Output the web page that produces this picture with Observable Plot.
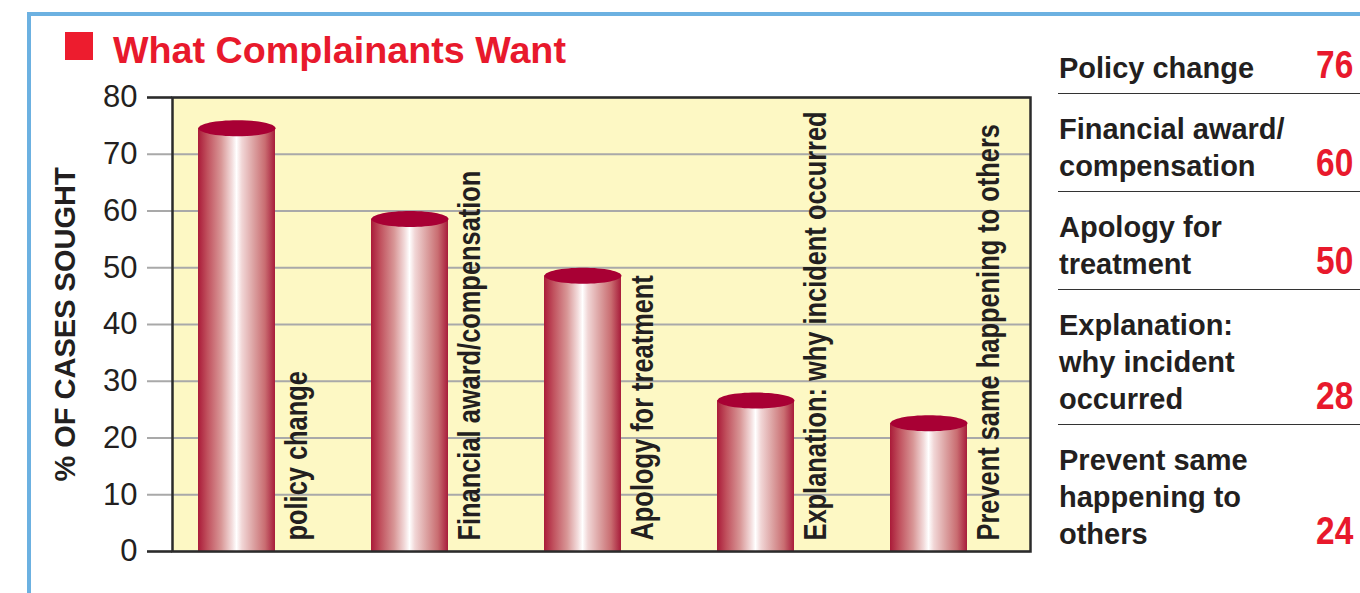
<!DOCTYPE html>
<html>
<head>
<meta charset="utf-8">
<script src="https://cdn.jsdelivr.net/npm/d3@7"></script>
<script src="https://cdn.jsdelivr.net/npm/@observablehq/plot@0.6"></script>
<style>
html, body { margin: 0; padding: 0; background: #fff; }
#wrap { position: relative; width: 1360px; height: 593px; overflow: hidden; font-family: "Liberation Sans", Arial, sans-serif; color: #231f20; }
#chart svg { position: absolute; left: 0; top: 0; }
.bline { position: absolute; background: #6cb1e1; }
#square { position: absolute; left: 65px; top: 32px; width: 28px; height: 28px; background: #ed1c2e; }
#title { position: absolute; left: 113px; top: 31.5px; font-size: 37.7px; line-height: 37px; font-weight: bold; color: #e8192c; white-space: nowrap; }
#table { position: absolute; left: 1058px; top: 0; width: 302px; }
.row { position: relative; padding: 17px 0 6px 1px; border-bottom: 1.5px solid #333; font-size: 29px; line-height: 37px; font-weight: bold; }
.row:first-child { padding-top: 49.5px; }
.row:last-child { border-bottom: none; }
.num { position: absolute; right: 7px; bottom: 8.7px; display: inline-block; font-size: 38px; line-height: 38px; color: #e8192c; transform: scaleX(0.88); transform-origin: right bottom; }
</style>
</head>
<body>
<div id="wrap">
  <div id="chart"></div>
  <div class="bline" style="left:27px;top:12px;right:0;height:4px;"></div>
  <div class="bline" style="left:27px;top:12px;width:4px;bottom:0;"></div>
  <div id="square"></div>
  <div id="title"></div>
  <div id="table"></div>
</div>
<script>
const titleText = "What Complainants Want";
const yAxisLabel = "% OF CASES SOUGHT";
const categories = ["Policy change", "Financial award/compensation", "Apology for treatment", "Explanation: why incident occurred", "Prevent same happening to others"];
const barLabels = ["policy change", "Financial award/compensation", "Apology for treatment", "Explanation: why incident occurred", "Prevent same happening to others"];
const tableLabels = [["Policy change"], ["Financial award/", "compensation"], ["Apology for", "treatment"], ["Explanation:", "why incident", "occurred"], ["Prevent same", "happening to", "others"]];
const values = [76, 60, 50, 28, 24];
const yTicks = [0, 10, 20, 30, 40, 50, 60, 70, 80];
const yDomain = [0, 80];

const data = categories.map((c, i) => ({cat: c, label: barLabels[i], value: values[i]}));

document.getElementById("title").textContent = titleText;

const table = d3.select("#table");
tableLabels.forEach((lines, i) => {
  const row = table.append("div").attr("class", "row");
  row.html(lines.map(l => l.replace(/&/g, "&amp;")).join("<br>"));
  row.append("span").attr("class", "num").text(values[i]);
});

const ellipseTop = {
  draw(ctx) {
    const rx = 38.5, ry = 8, k = 0.5523;
    ctx.moveTo(-rx, 0);
    ctx.bezierCurveTo(-rx, -ry * k, -rx * k, -ry, 0, -ry);
    ctx.bezierCurveTo(rx * k, -ry, rx, -ry * k, rx, 0);
    ctx.bezierCurveTo(rx, ry * k, rx * k, ry, 0, ry);
    ctx.bezierCurveTo(-rx * k, ry, -rx, ry * k, -rx, 0);
    ctx.closePath();
  }
};

const defs = () => {
  const d = d3.create("svg:defs");
  const g = d.append("linearGradient").attr("id", "cyl").attr("x1", 0).attr("x2", 1).attr("y1", 0).attr("y2", 0);
  [[0, "#aa1b39"], [0.12, "#c0505d"], [0.3, "#d89696"], [0.44, "#f3dcdc"], [0.5, "#ffffff"], [0.57, "#f1d6d6"], [0.72, "#dca2a2"], [0.87, "#c96d71"], [1, "#a81c3a"]]
    .forEach(([o, c]) => g.append("stop").attr("offset", o).attr("stop-color", c));
  return d.node();
};

const plot = Plot.plot({
  width: 1360,
  height: 593,
  marginTop: 97,
  marginBottom: 42,
  marginLeft: 172,
  marginRight: 330,
  style: {fontFamily: "'Liberation Sans', Arial, sans-serif", background: "transparent", color: "#231f20", overflow: "visible"},
  x: {type: "band", domain: categories, paddingInner: 0.555, paddingOuter: 0, align: 0, insetLeft: 26.2, insetRight: 62.4, axis: null},
  y: {domain: yDomain},
  marks: [
    defs,
    Plot.frame({fill: "#fdf8c4", stroke: null}),
    Plot.ruleY(yTicks, {stroke: "#a9a9a9", strokeWidth: 2.2, insetLeft: -25}),
    Plot.barY(data, {x: "cat", y: "value", fill: "url(#cyl)", insetTop: 8}),
    Plot.dot(data, {x: "cat", y: "value", dy: 8, r: 5, symbol: ellipseTop, fill: "#a80034", stroke: null}),
    Plot.text(data, {x: "cat", text: "label", frameAnchor: "bottom", rotate: -90, textAnchor: "start", lineAnchor: "middle", dx: 60, dy: -11, fontSize: 31, fontWeight: "bold", fill: "#231f20"}),
    Plot.frame({stroke: "#2b2b2b", strokeWidth: 2.5}),
    Plot.ruleY([yDomain[0], yDomain[1]], {stroke: "#2b2b2b", strokeWidth: 2.5, insetLeft: -25, insetRight: 858}),
    Plot.axisY({ticks: yTicks, tickSize: 0, tickPadding: 35, fontSize: 31, fill: "#231f20", label: null, tickFormat: d => d}),
    Plot.text([yAxisLabel], {text: d => d, frameAnchor: "left", dx: -107, rotate: -90, textAnchor: "middle", lineAnchor: "middle", fontSize: 29, fontWeight: "bold", fill: "#231f20"})
  ]
});

// condense the rotated bar labels along their reading direction
d3.select(plot).selectAll("text")
  .filter(function() { return barLabels.includes(this.textContent); })
  .each(function() {
    const t = this.getAttribute("transform");
    if (t) this.setAttribute("transform", t + " scale(0.82,1)");
  });

document.getElementById("chart").appendChild(plot);
</script>
</body>
</html>
